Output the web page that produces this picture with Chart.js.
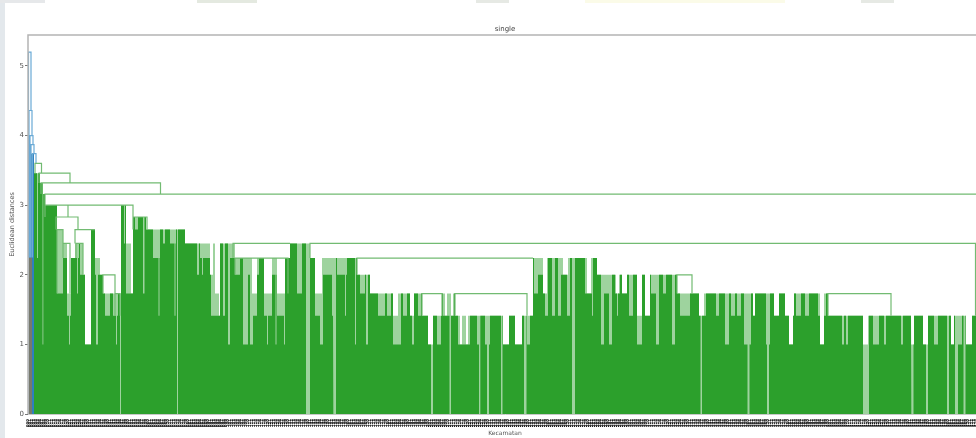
<!DOCTYPE html>
<html>
<head>
<meta charset="utf-8">
<script src="https://cdn.jsdelivr.net/npm/chart.js@4"></script>
<style>
  html, body { margin: 0; height: 100%; background: #fff; overflow: hidden; }
  .strip { position: absolute; }
  #wrap { position: absolute; left: 0; top: 0; width: 982px; height: 438px; filter: blur(0.7px); }
</style>
</head>
<body>
<div class="strip" style="left:0;top:3px;width:5px;height:435px;background:#e3e8ec"></div>
<div class="strip" style="left:0;top:0;width:45px;height:3px;background:#e6e8ea"></div>
<div class="strip" style="left:197px;top:0;width:60px;height:3px;background:#e4e9e0"></div>
<div class="strip" style="left:476px;top:0;width:33px;height:3px;background:#e6e9e4"></div>
<div class="strip" style="left:585px;top:0;width:200px;height:3px;background:#fbfbe8"></div>
<div class="strip" style="left:861px;top:0;width:33px;height:3px;background:#e6e9e4"></div>
<div id="wrap"><canvas id="dendro" width="982" height="438"></canvas></div>
<script>
// x is in leaf positions, y in euclidean distance
const leafCount = 477;
const yTicks = [0, 1, 2, 3, 4, 5];

// top of the green mass: [first leaf, level]
const massRuns = [
  [3, 3.46], [6, 3.32], [7.5, 3.16], [8.5, 3], [14.5, 2.65], [17.5, 2.45], [19.5, 1.73], [21.5, 2.24],
  [23.5, 2.45], [26, 2.45], [27.5, 2], [28.5, 1], [31.5, 2.65], [33.5, 2.24], [36, 2], [37.5, 1.73],
  [46.5, 3], [49, 2.45], [51.5, 1.73], [52.5, 2.83], [59, 2.65], [78.5, 2.45], [103.5, 2.24], [131, 2.45],
  [141, 2.24], [164.5, 2], [171, 1.73], [213.5, 1.41], [252.5, 2.24], [284.5, 2], [324.5, 1.73], [400, 1.41]
];

// fully open gaps: [from leaf, to leaf, level]
const openCuts = [
  [91, 92.5, 2], [93.5, 95.5, 1.73], [95.5, 96, 1.41], [112, 114.5, 1.73], [118, 122, 1.73], [124.5, 128.5, 1.73],
  [143.5, 147, 1.73], [182.5, 185, 1.41], [191, 193, 1.41], [197, 207, 1.41], [200, 202.5, 1], [208.5, 209.5, 1.41],
  [211.5, 212.5, 1.41], [216, 217, 1], [219, 220, 1], [237.5, 240.5, 1], [243.5, 247, 1], [257.5, 259.5, 1.73],
  [267.5, 270, 2], [279.5, 281.5, 1.73], [294, 295.5, 1.73], [297, 299.5, 1.73], [304.5, 307, 1.41], [308.5, 311, 1.41],
  [327, 332, 1.73], [335.5, 338, 1.41], [362.5, 363.5, 1.41], [373, 375.5, 1.41], [378.5, 383, 1.41], [380.5, 382.5, 1],
  [396, 398, 1], [417.5, 420, 1], [441.5, 443, 1], [447.5, 450, 1], [461.5, 463, 1], [469, 472, 1]
];

// narrow gaps that read as a paler green: [from leaf, to leaf, level]
const paleCuts = [
  [4.5, 5, 2.24], [7.25, 7.75, 1], [14.5, 17.5, 1.73], [17.5, 19.5, 2.24], [19.5, 21.5, 1.41], [20.5, 21, 1],
  [23.5, 25.5, 2.24], [24.5, 25, 1.73], [26, 27.5, 2], [33.5, 36, 2], [34, 35, 1], [38.5, 41, 1.41], [42.5, 45, 1.41],
  [44, 44.5, 1], [46, 46.5, 0], [48, 48.5, 2.45], [49, 51.5, 1.73], [53.5, 55, 2.65], [57.5, 58.25, 1.73],
  [62.5, 66, 2.24], [65.25, 65.75, 1.41], [67.5, 68.5, 2.45], [71, 74, 2.45], [73.25, 73.75, 1.41], [74.5, 75, 0],
  [84.5, 85.5, 2], [86, 91, 2.24], [87, 87.5, 2], [91.5, 93.5, 1.41], [93.5, 95.5, 1.41], [97.5, 98.5, 1.41],
  [100, 101, 1], [101, 103.5, 2.24], [103.5, 106, 2], [107.5, 110, 1], [110, 112, 2], [111, 112.5, 1],
  [112, 114.5, 1.41], [114.5, 115.5, 2], [118, 122, 1.41], [119.5, 120, 1], [122, 124.5, 2], [123.75, 124.25, 1],
  [124.5, 128.5, 1.41], [128, 128.5, 1], [134.5, 137, 1.73], [139, 141, 0], [143.5, 147, 1.41], [146, 147.5, 1],
  [147.5, 152.5, 2], [152, 154, 1.41], [152.75, 154, 0], [154.5, 159.5, 2], [158.5, 159, 1.41], [163.5, 164, 1],
  [166, 168.5, 1.73], [169, 170, 1], [175, 178.5, 1.41], [179.5, 181.5, 1.41], [182.5, 186.5, 1], [187.5, 189.5, 1.41],
  [192, 193, 1], [195, 196.5, 1.41], [201.5, 202.5, 0], [204.5, 206.5, 1], [207.5, 213, 1.41], [210.75, 211.5, 0],
  [215, 221, 1], [224.5, 226, 1], [225.5, 226.25, 0], [228.5, 231, 1], [229.5, 230.5, 0], [236.5, 237.25, 0],
  [248, 249.25, 0], [249.5, 251, 1], [253, 255, 1.73], [255, 257.5, 2], [258.5, 260, 1.41], [262, 263.5, 1.41],
  [265, 266.5, 1.41], [266.5, 270, 2], [269.5, 271, 1.41], [272, 273.5, 0], [278.5, 282, 1.73], [282, 282.5, 1.41],
  [286.5, 288, 1], [288, 292, 1.73], [290.5, 292, 1], [293.5, 296, 1.73], [294.5, 295, 1.41], [300.5, 302.5, 1.41],
  [304.5, 307, 1], [311.5, 314, 1.73], [314, 315.5, 1], [317.5, 319, 1.73], [322, 323.5, 1], [326, 331, 1.41],
  [335.5, 339, 1.41], [336.25, 337, 0], [344, 345.5, 1.41], [348.5, 350.5, 1], [351.5, 353.5, 1.41], [354.5, 356.5, 1.41],
  [358, 361.5, 1], [359.75, 360.75, 0], [369, 371, 1], [369.5, 370.5, 0], [384, 386.5, 1.41], [388.5, 390.5, 1.41],
  [395, 399, 1.41], [407, 408, 1], [409, 410, 1], [417.5, 420.5, 0], [422.5, 425.5, 1], [428, 429, 1], [436.5, 437.5, 1],
  [441.75, 442.75, 0], [449, 450, 0], [453, 455, 1], [459.5, 460.5, 0], [463.5, 465, 0], [465, 467, 1], [467.75, 468.75, 0]
];

// U shaped links: [left, right, height, left foot, right foot]
const greenLinks = [
  [3.5, 6.75, 3.6, 3.46, 3.46], [5.5, 21, 3.46, 3.32, 3.32], [6.5, 66.25, 3.32, 3.16, 3.16], [8.5, 477, 3.16, 3, 2.45],
  [8.5, 52.5, 3, 2.83, 2.83], [20, 20, 3, 2.83, 2.83], [14, 25, 2.83, 2.65, 2.65], [14.5, 17.5, 2.65, 1.73, 2.45],
  [23.5, 33.5, 2.65, 2.45, 2.65], [17.5, 21, 2.45, 2.24, 1.73], [24, 27.5, 2.45, 2.24, 2], [37.5, 43.5, 2, 1.73, 1.73],
  [43.5, 46, 1.73, 1.41, 1.41], [52.5, 59.5, 2.83, 2.65, 2.65], [103.5, 130, 2.24, 2, 1.73], [102.5, 131, 2.45, 2.24, 2.45],
  [141, 473.75, 2.45, 2.24, 1.41], [164.5, 252.5, 2.24, 2, 2.24], [213.5, 249.5, 1.73, 1.41, 1.41],
  [400, 431.5, 1.73, 1.41, 1.41], [197, 207, 1.73, 1.41, 1.41], [324.5, 332, 2, 1.73, 1.73]
];
const blueLinks = [
  [0.25, 1.5, 5.2, 2.25, 4.36], [0.5, 2, 4.36, 2.25, 4], [1, 2.5, 4, 2.25, 3.87], [1.5, 3, 3.87, 2.25, 3.74], [2.25, 4, 3.74, 2.25, 3.6]
];

const blueBlock = [0.25, 3, 3.74];
const greyBlock = [0.25, 2, 2.25];

function linkPath(links) {
  const pts = [];
  links.forEach(function (l) {
    pts.push({ x: l[0], y: l[3] }, { x: l[0], y: l[2] }, { x: l[1], y: l[2] }, { x: l[1], y: l[4] }, { x: l[1], y: null });
  });
  return pts;
}

function blockPath(b) {
  return [{ x: b[0], y: 0 }, { x: b[0], y: b[2] }, { x: b[1], y: b[2] }, { x: b[1], y: 0 }];
}

// outline of the mass, cut by the lists it is given
function massPath(cuts) {
  let stops = massRuns.map(function (r) { return r[0]; }).concat([leafCount]);
  cuts.forEach(function (c) { stops.push(c[0], c[1]); });
  stops = Array.from(new Set(stops)).sort(function (a, b) { return a - b; });
  const pts = [{ x: stops[0], y: 0 }];
  for (let i = 0; i < stops.length - 1; i++) {
    const a = stops[i], b = stops[i + 1];
    let top = 0;
    massRuns.forEach(function (r) { if (r[0] <= a) top = r[1]; });
    cuts.forEach(function (c) { if (c[0] < b && c[1] > a) top = Math.min(top, c[2]); });
    pts.push({ x: a, y: top }, { x: b, y: top });
  }
  pts.push({ x: leafCount, y: 0 });
  return pts;
}

function area(data, color) {
  return { data: data, showLine: true, fill: "origin", backgroundColor: color, borderWidth: 0, pointRadius: 0 };
}
function outline(data, color) {
  return { data: data, showLine: true, fill: false, borderColor: color, borderWidth: 1.2, pointRadius: 0, spanGaps: false };
}

const framePlugin = {
  id: "frame",
  afterDraw: function (chart) {
    const a = chart.chartArea, ctx = chart.ctx;
    ctx.save();
    ctx.strokeStyle = "#b4b4b4";
    ctx.lineWidth = 1.5;
    ctx.beginPath();
    ctx.moveTo(a.left, a.bottom);
    ctx.lineTo(a.left, a.top);
    ctx.lineTo(a.right, a.top);
    ctx.stroke();
    ctx.restore();
  }
};

new Chart(document.getElementById("dendro"), {
  type: "scatter",
  data: {
    datasets: [
      outline(linkPath(greenLinks), "#72bb72"),
      outline(linkPath(blueLinks), "#6aaad6"),
      area(blockPath(greyBlock), "#77796d"),
      area(massPath(openCuts.concat(paleCuts)), "#2ca02c"),
      area(massPath(openCuts), "#9ed39e"),
      area(blockPath(blueBlock), "#2f7fbf")
    ]
  },
  options: {
    responsive: false,
    animation: false,
    events: [],
    layout: { padding: 0 },
    plugins: {
      legend: { display: false },
      tooltip: { enabled: false },
      title: {
        display: true,
        text: "single",
        fullSize: false,
        color: "#444",
        font: { family: "DejaVu Sans", size: 7, weight: "normal" },
        padding: { top: 25, bottom: 1.6 }
      }
    },
    scales: {
      x: {
        type: "linear",
        min: 0,
        max: leafCount,
        grid: { display: false, drawTicks: false, tickLength: 0 },
        border: { color: "#c8c8c8" },
        afterFit: function (s) { s.height = 24; s.paddingLeft = 0; s.paddingRight = 0; },
        title: {
          display: true,
          text: "Kecamatan",
          color: "#555",
          font: { family: "DejaVu Sans", size: 6 },
          padding: { top: 0, bottom: 1 }
        },
        ticks: {
          autoSkip: false,
          stepSize: 1,
          minRotation: 90,
          maxRotation: 90,
          padding: 5,
          color: "#111",
          font: { family: "DejaVu Sans", size: 4, weight: "bold" },
          callback: function (v) { return String(v).padStart(3, "0"); }
        }
      },
      y: {
        min: 0,
        max: 5.445,
        grid: { drawOnChartArea: false, tickLength: 3, color: "#777" },
        border: { display: false },
        afterFit: function (s) { s.width = 28; },
        title: {
          display: true,
          text: "Euclidean distances",
          color: "#555",
          font: { family: "DejaVu Sans", size: 6.5 },
          padding: { top: 8, bottom: 0 }
        },
        afterBuildTicks: function (s) { s.ticks = yTicks.map(function (v) { return { value: v }; }); },
        ticks: {
          padding: 1,
          color: "#555",
          font: { family: "DejaVu Sans", size: 7 }
        }
      }
    }
  },
  plugins: [framePlugin]
});
</script>
</body>
</html>
